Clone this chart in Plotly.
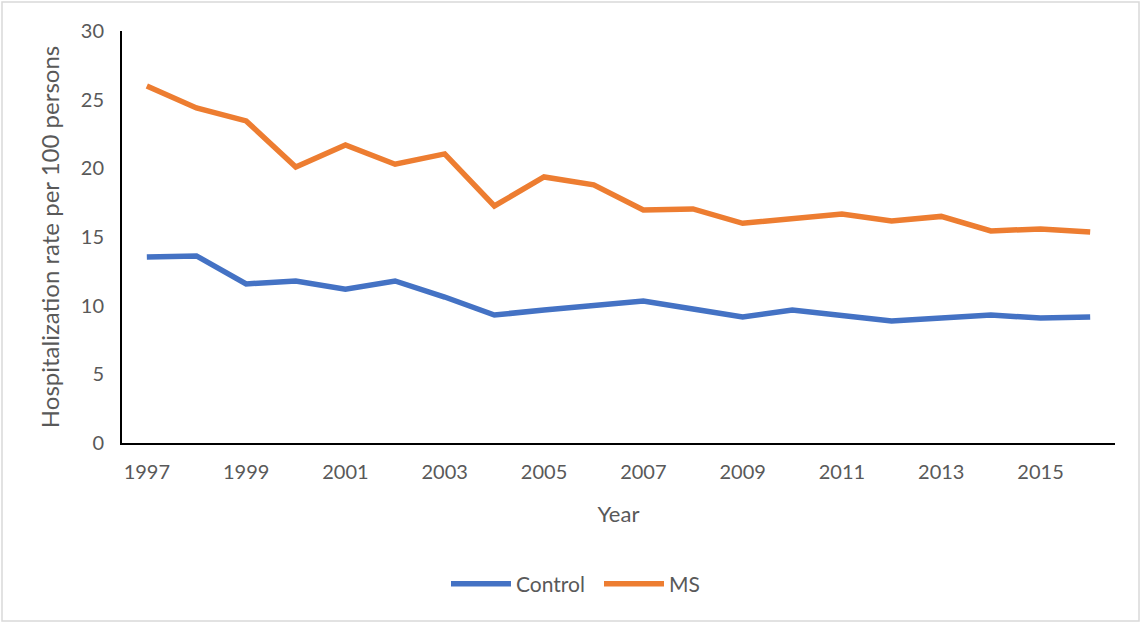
import plotly.graph_objects as go

years = [str(y) for y in range(1997, 2017)]
control = [13.55, 13.62, 11.58, 11.8, 11.2, 11.8, 10.63, 9.32, 9.69, 10.05,
           10.34, 9.76, 9.18, 9.69, 9.32, 8.89, 9.1, 9.32, 9.1, 9.18]
ms = [26.0, 24.4, 23.45, 20.1, 21.7, 20.3, 21.05, 17.26, 19.37, 18.8,
      16.97, 17.04, 16.0, 16.3, 16.68, 16.17, 16.5, 15.44, 15.59, 15.37]
tick_years = [str(y) for y in range(1997, 2017, 2)]

W, H = 1141, 623
L, R, T, B = 122, 26, 31, 180
pw, ph = W - L - R, H - T - B

FONT = "Lato, 'Open Sans', sans-serif"
GREY = "#595959"

fig = go.Figure()
fig.add_trace(go.Scatter(x=years, y=control, mode="lines", name="Control",
                         line=dict(color="#4472C4", width=5.5)))
fig.add_trace(go.Scatter(x=years, y=ms, mode="lines", name="MS",
                         line=dict(color="#ED7D31", width=5.5)))

fig.update_layout(
    width=W, height=H,
    margin=dict(l=L, r=R, t=T, b=B),
    paper_bgcolor="white", plot_bgcolor="white",
    font=dict(family=FONT, color=GREY, size=20),
    showlegend=True,
    legend=dict(orientation="h", x=(446 - L) / pw, xanchor="left",
                y=-(584 - 443) / ph, yanchor="middle",
                font=dict(size=21, color=GREY),
                itemwidth=60, entrywidth=78, entrywidthmode="pixels",
                traceorder="normal"),
    xaxis=dict(type="category", showgrid=False, showline=True, linecolor="black",
               linewidth=2, ticks="", tickvals=tick_years, ticktext=tick_years,
               tickfont=dict(size=20, color=GREY), ticklabelstandoff=10,
               title=dict(text="Year", font=dict(size=22, color=GREY), standoff=25),
               range=[-0.5, len(years) - 0.5], zeroline=False),
    yaxis=dict(range=[0, 30], dtick=5, showgrid=False, showline=True,
               linecolor="black", linewidth=2, ticks="",
               tickfont=dict(size=20, color=GREY), zeroline=False,
               ticklabelstandoff=12,
               title=dict(text="Hospitalization rate per 100 persons",
                          font=dict(size=24, color=GREY), standoff=14)),
    shapes=[dict(type="rect", xref="paper", yref="paper",
                 x0=(2 - L) / pw, x1=(1139 - L) / pw,
                 y0=-(621 - T - ph) / ph, y1=(T + ph - 2) / ph,
                 line=dict(color="#D9D9D9", width=1.5), fillcolor="rgba(0,0,0,0)",
                 layer="below")],
)

fig.write_html("out.html")
